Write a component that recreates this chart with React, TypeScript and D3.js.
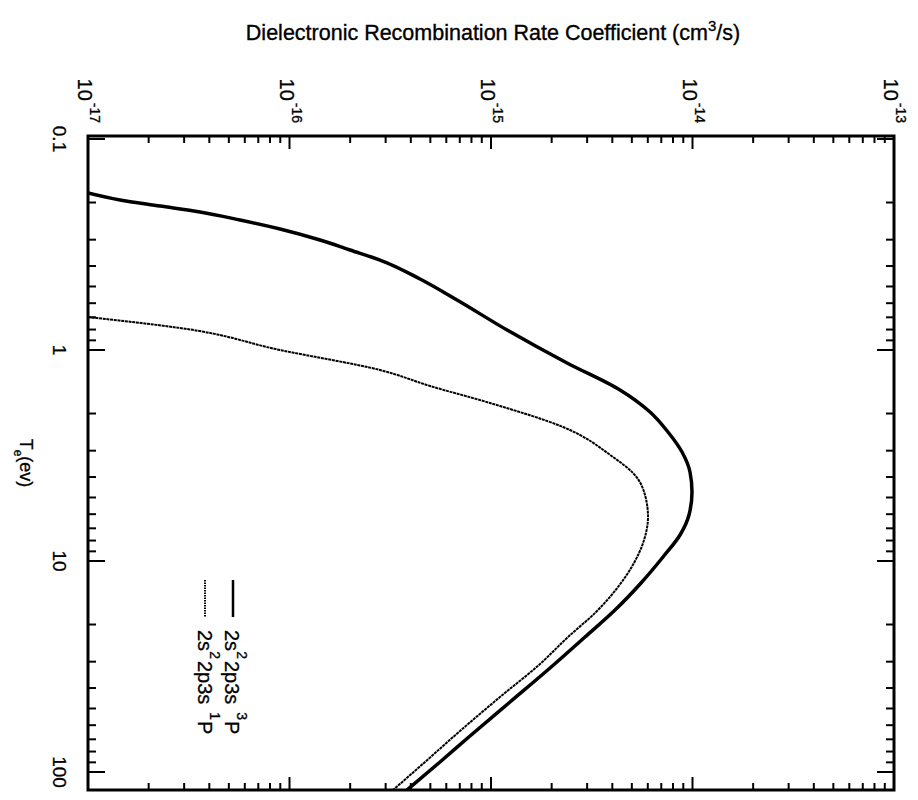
import * as d3 from 'd3';

// rate axis (horizontal, log) decade exponents
const RATE_EXPONENTS = [-17, -16, -15, -14, -13];
// temperature axis (vertical, log)
const TEMP_TICKS = [0.1, 1, 10, 100];
const TEMP_LABELS = ['0.1', '1', '10', '100'];

// 2s2 2p3s 3P (thick solid)
const TE_3P = [0.1803, 0.1945, 0.2077, 0.2218, 0.242, 0.267, 0.3011, 0.3358, 0.3746, 0.4608, 0.5794, 0.8038, 1.152, 1.547, 1.967, 2.447, 3.044, 3.786, 4.71, 6.053, 7.53, 9.573, 12.71, 17.07, 22.92, 32.15, 46.58, 67.52, 89.66, 121.7];
const RATE_3P = [1.0e-17, 1.441e-17, 2.277e-17, 3.596e-17, 5.679e-17, 8.973e-17, 1.417e-16, 1.996e-16, 2.813e-16, 4.443e-16, 6.782e-16, 1.201e-15, 2.384e-15, 4.367e-15, 6.153e-15, 7.557e-15, 8.87e-15, 9.719e-15, 9.943e-15, 9.607e-15, 8.67e-15, 7.139e-15, 5.553e-15, 4.126e-15, 2.928e-15, 1.963e-15, 1.243e-15, 7.866e-16, 5.584e-16, 3.83e-16];

// 2s2 2p3s 1P (thin dotted)
const TE_1P = [0.6977, 0.7865, 1.0, 1.244, 1.481, 1.783, 2.317, 3.215, 3.827, 4.867, 6.186, 7.953, 10.22, 13.28, 17.45, 22.92, 30.77, 44.12, 63.93, 89.66, 121.7];
const RATE_1P = [1.0e-17, 2.861e-17, 8.973e-17, 2.813e-16, 4.982e-16, 9.886e-16, 2.277e-15, 4.032e-15, 5.066e-15, 5.812e-15, 6.015e-15, 5.747e-15, 5.124e-15, 4.269e-15, 3.319e-15, 2.411e-15, 1.751e-15, 1.108e-15, 7.017e-16, 4.704e-16, 3.264e-16];

const W = 918;
const H = 800;
const frame = { left: 88, right: 894, top: 136, bottom: 790 };
const FONT = "'Liberation Sans', Arial, Helvetica, sans-serif";

export default function App() {
  const x = d3.scaleLog().domain([1e-17, 1e-13]).range([88, 894]);
  const y = d3.scaleLog().domain([0.1, 100]).range([139, 772]);

  const line = d3
    .line<[number, number]>()
    .x((d) => x(d[1]))
    .y((d) => y(d[0]))
    .curve(d3.curveMonotoneY);

  const path3P = line(TE_3P.map((t, i) => [t, RATE_3P[i]]));
  const path1P = line(TE_1P.map((t, i) => [t, RATE_1P[i]]));

  const rateMinor: number[] = [];
  RATE_EXPONENTS.slice(0, -1).forEach((e) => {
    for (let k = 2; k <= 9; k++) rateMinor.push(k * Math.pow(10, e));
  });
  const tempMinor: number[] = [];
  [-1, 0, 1, 2].forEach((e) => {
    for (let k = 2; k <= 9; k++) {
      const v = k * Math.pow(10, e);
      if (y(v) < frame.bottom - 1) tempMinor.push(v);
    }
  });

  const majorRate = 13;
  const minorRate = 7;
  const majorTemp = 17;
  const minorTemp = 8;

  return (
    <svg
      width={W}
      height={H}
      style={{ position: 'absolute', left: 0, top: 0, background: '#fff' }}
      fontFamily={FONT}
    >
      <rect width={W} height={H} fill="#fff" />
      <defs>
        <clipPath id="frame">
          <rect x={frame.left} y={frame.top} width={frame.right - frame.left} height={frame.bottom - frame.top} />
        </clipPath>
      </defs>

      {/* title (horizontal) */}
      <text x={493} y={40} textAnchor="middle" fontSize={21.5} fill="#000" stroke="#000" strokeWidth={0.35}>
        Dielectronic Recombination Rate Coefficient (cm
        <tspan dy={-9} fontSize={15}>3</tspan>
        <tspan dy={9}>/s)</tspan>
      </text>

      {/* ticks */}
      <g stroke="#000" strokeWidth={2}>
        {RATE_EXPONENTS.map((e) => {
          const px = x(Math.pow(10, e));
          return (
            <g key={'rm' + e}>
              <line x1={px} x2={px} y1={frame.top} y2={frame.top + majorRate} />
              <line x1={px} x2={px} y1={frame.bottom} y2={frame.bottom - majorRate} />
            </g>
          );
        })}
        {rateMinor.map((v) => {
          const px = x(v);
          return (
            <g key={'rn' + v}>
              <line x1={px} x2={px} y1={frame.top} y2={frame.top + minorRate} />
              <line x1={px} x2={px} y1={frame.bottom} y2={frame.bottom - minorRate} />
            </g>
          );
        })}
        {TEMP_TICKS.map((t) => {
          const py = y(t);
          return (
            <g key={'tm' + t}>
              <line x1={frame.left} x2={frame.left + majorTemp} y1={py} y2={py} />
              <line x1={frame.right} x2={frame.right - majorTemp} y1={py} y2={py} />
            </g>
          );
        })}
        {tempMinor.map((t) => {
          const py = y(t);
          return (
            <g key={'tn' + t}>
              <line x1={frame.left} x2={frame.left + minorTemp} y1={py} y2={py} />
              <line x1={frame.right} x2={frame.right - minorTemp} y1={py} y2={py} />
            </g>
          );
        })}
      </g>

      {/* rate tick labels, rotated */}
      {RATE_EXPONENTS.map((e) => (
        <text
          key={'rl' + e}
          transform={`translate(${x(Math.pow(10, e)) - 10},${frame.top - 13}) rotate(90)`}
          textAnchor="end"
          fontSize={20}
          fill="#000"
          stroke="#000"
          strokeWidth={0.3}
        >
          10
          <tspan dy={-12} dx={2} fontSize={14}>{e}</tspan>
        </text>
      ))}

      {/* temperature tick labels, rotated, centred on ticks */}
      {TEMP_TICKS.map((t, i) => (
        <text
          key={'tl' + t}
          transform={`translate(53,${y(t)}) rotate(90)`}
          textAnchor="middle"
          fontSize={19}
          fill="#000"
          stroke="#000"
          strokeWidth={0.3}
        >
          {TEMP_LABELS[i]}
        </text>
      ))}

      {/* axis label T_e(ev) */}
      <text
        transform={`translate(20,${(frame.top + frame.bottom) / 2}) rotate(90)`}
        textAnchor="middle"
        fontSize={18}
        fill="#000"
        stroke="#000"
        strokeWidth={0.3}
      >
        T<tspan dy={6} fontSize={12}>e</tspan>
        <tspan dy={-6}>(ev)</tspan>
      </text>

      {/* curves */}
      <g clipPath="url(#frame)" fill="none" stroke="#000">
        <path d={path3P ?? ''} strokeWidth={3.5} strokeLinejoin="round" />
        <path d={path1P ?? ''} strokeWidth={2} strokeDasharray="3 0.7" />
      </g>

      {/* legend */}
      <line x1={233} x2={233} y1={580} y2={617} stroke="#000" strokeWidth={2.5} />
      <text transform="translate(225,630) rotate(90)" fontSize={20} fill="#000" stroke="#000" strokeWidth={0.3}>
        2s<tspan dy={-12} fontSize={14}>2</tspan>
        <tspan dy={12} dx={2}>2p3s</tspan>
        <tspan dy={-12} dx={8} fontSize={14}>3</tspan>
        <tspan dy={12} dx={1}>P</tspan>
      </text>
      <line x1={205} x2={205} y1={580} y2={617} stroke="#000" strokeWidth={2} strokeDasharray="1.5 1" />
      <text transform="translate(198,630) rotate(90)" fontSize={20} fill="#000" stroke="#000" strokeWidth={0.3}>
        2s<tspan dy={-12} fontSize={14}>2</tspan>
        <tspan dy={12} dx={2}>2p3s</tspan>
        <tspan dy={-12} dx={8} fontSize={14}>1</tspan>
        <tspan dy={12} dx={1}>P</tspan>
      </text>

      {/* frame */}
      <rect
        x={frame.left}
        y={frame.top}
        width={frame.right - frame.left}
        height={frame.bottom - frame.top}
        fill="none"
        stroke="#000"
        strokeWidth={3}
      />
    </svg>
  );
}
